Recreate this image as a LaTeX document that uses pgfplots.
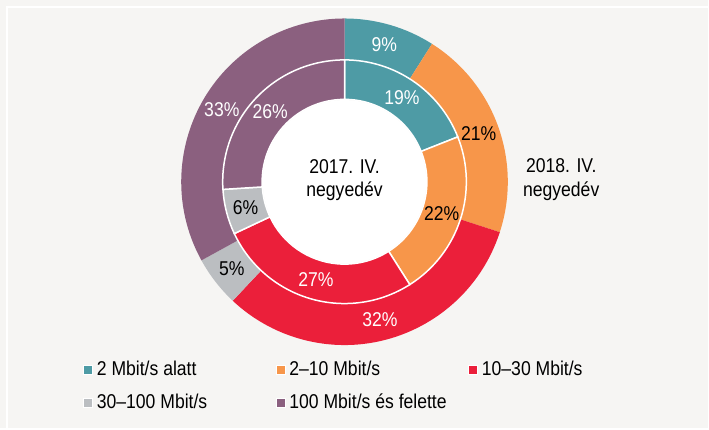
\documentclass[border=0pt]{standalone}
\usepackage{fontspec}
\setmainfont{Liberation Sans}[FakeStretch=0.88]
\usepackage{pgfplots}
\usepackage{pgfplotstable}
\pgfplotsset{compat=1.18}

\definecolor{bgc}{HTML}{F6F5F3}
\definecolor{seg0}{HTML}{4E9BA5}
\definecolor{seg1}{HTML}{F7964A}
\definecolor{seg2}{HTML}{EB1F3A}
\definecolor{seg3}{HTML}{BBBEC1}
\definecolor{seg4}{HTML}{8B607F}
\colorlet{lab0}{white}
\colorlet{lab1}{black}
\colorlet{lab2}{white}
\colorlet{lab3}{black}
\colorlet{lab4}{white}

% shares in percent: old = 2017. IV. (inner ring), new = 2018. IV. (outer ring)
\pgfplotstableread{
cat old new
0   19  9
1   22  21
2   27  32
3   6   5
4   26  33
}\shares

% ring geometry (pt)
\def\cx{345}\def\cy{247}
\def\rOut{163.5}\def\rMid{122}\def\rIn{82.5}

\begin{document}
\fontsize{20pt}{24pt}\selectfont
\begin{tikzpicture}
\fill[bgc] (0,0) rectangle (709pt,429pt);
\draw[white, line width=2pt] (7pt,0) -- (7pt,422pt) -- (709pt,422pt);

% cumulative start / end / middle angles of every slice
\def\cumold{0}\def\cumnew{0}
\pgfplotsforeachungrouped \i in {0,...,4}{%
  \pgfplotstablegetelem{\i}{old}\of\shares\let\val=\pgfplotsretval
  \pgfmathsetmacro\angA{90-3.6*\cumold}
  \pgfmathsetmacro\cumold{\cumold+\val}
  \pgfmathsetmacro\angB{90-3.6*\cumold}
  \pgfmathsetmacro\angM{(\angA+\angB)/2}
  \expandafter\xdef\csname oldA\i\endcsname{\angA}
  \expandafter\xdef\csname oldB\i\endcsname{\angB}
  \expandafter\xdef\csname oldM\i\endcsname{\angM}
  \expandafter\xdef\csname oldV\i\endcsname{\val}
  \pgfplotstablegetelem{\i}{new}\of\shares\let\val=\pgfplotsretval
  \pgfmathsetmacro\angA{90-3.6*\cumnew}
  \pgfmathsetmacro\cumnew{\cumnew+\val}
  \pgfmathsetmacro\angB{90-3.6*\cumnew}
  \pgfmathsetmacro\angM{(\angA+\angB)/2}
  \expandafter\xdef\csname newA\i\endcsname{\angA}
  \expandafter\xdef\csname newB\i\endcsname{\angB}
  \expandafter\xdef\csname newM\i\endcsname{\angM}
  \expandafter\xdef\csname newV\i\endcsname{\val}
}

\begin{axis}[
  x=1pt, y=1pt,
  xmin=0, xmax=709, ymin=0, ymax=429,
  hide axis, clip=false,
  legend columns=3,
  legend cell align=left,
  legend image code/.code={\draw[#1,draw=white,line width=0.8pt] (0pt,-4.5pt) rectangle (9pt,4.5pt);},
  legend style={at={(axis cs:83,69)}, anchor=north west, draw=none, fill=none,
    inner sep=0pt, row sep=14pt, nodes={inner sep=1pt},
    /tikz/every odd column/.append style={column sep=3pt}},
]
% outer ring: 2018. IV.
\pgfplotsinvokeforeach{0,...,4}{%
  \fill[seg#1] (axis cs:\cx,\cy) ++(\csname newA#1\endcsname:\rOut pt)
    arc[start angle=\csname newA#1\endcsname, end angle=\csname newB#1\endcsname, radius=\rOut pt]
    -- ++(\csname newB#1\endcsname:-41.5pt)
    arc[start angle=\csname newB#1\endcsname, end angle=\csname newA#1\endcsname, radius=\rMid pt]
    -- cycle;
}
% inner ring: 2017. IV.
\pgfplotsinvokeforeach{0,...,4}{%
  \filldraw[fill=seg#1, draw=white, line width=1.5pt] (axis cs:\cx,\cy) ++(\csname oldA#1\endcsname:\rMid pt)
    arc[start angle=\csname oldA#1\endcsname, end angle=\csname oldB#1\endcsname, radius=\rMid pt]
    -- ++(\csname oldB#1\endcsname:-39.5pt)
    arc[start angle=\csname oldB#1\endcsname, end angle=\csname oldA#1\endcsname, radius=\rIn pt]
    -- cycle;
}
\fill[white] (axis cs:\cx,\cy) circle[radius=\rIn pt - 0.75pt];
% value labels
\pgfplotsinvokeforeach{0,...,4}{%
  \path (axis cs:\cx,\cy) ++(\csname newM#1\endcsname:142.75pt) node[text=lab#1]{\csname newV#1\endcsname\%};
  \path (axis cs:\cx,\cy) ++(\csname oldM#1\endcsname:102.25pt) node[text=lab#1]{\csname oldV#1\endcsname\%};
}
\node[anchor=base] at (axis cs:345,255.7) {2017. IV.};
\node[anchor=base] at (axis cs:345,232) {negyedév};
\node[anchor=base] at (axis cs:562,256) {2018. IV.};
\node[anchor=base] at (axis cs:562,232) {negyedév};

\addlegendimage{fill=seg0}\addlegendentry{\makebox[178pt][l]{2 Mbit/s alatt}}
\addlegendimage{fill=seg1}\addlegendentry{\makebox[178pt][l]{2–10 Mbit/s}}
\addlegendimage{fill=seg2}\addlegendentry{\makebox[178pt][l]{10–30 Mbit/s}}
\addlegendimage{fill=seg3}\addlegendentry{\makebox[178pt][l]{30–100 Mbit/s}}
\addlegendimage{fill=seg4}\addlegendentry{\makebox[178pt][l]{100 Mbit/s és felette}}
\end{axis}
\end{tikzpicture}
\end{document}
